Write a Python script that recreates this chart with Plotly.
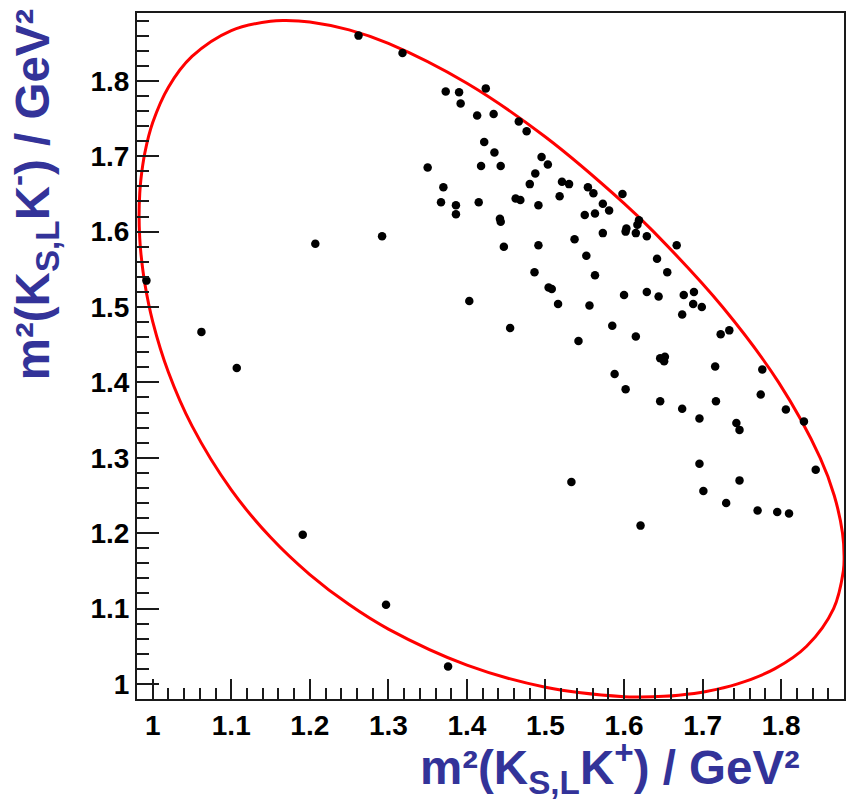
import plotly.graph_objects as go

# Event positions: m^2(K_S,L K+) and m^2(K_S,L K-) in GeV^2
m2_kp = [0.992,1.062,1.107,1.191,1.207,1.262,1.318,1.292,1.297,1.376,
         1.373,1.390,1.392,1.424,1.413,1.434,1.466,1.476,1.422,1.435,
         1.350,1.418,1.443,1.495,1.503,1.487,1.480,1.370,1.521,1.530,
         1.554,1.561,1.598,1.367,1.386,1.386,1.415,1.462,1.468,1.491,
         1.518,1.573,1.581,1.550,1.563,1.442,1.443,1.447,1.491,1.537,
         1.573,1.603,1.602,1.615,1.619,1.617,1.629,1.667,1.552,1.642,
         1.655,1.486,1.563,1.504,1.508,1.403,1.516,1.556,1.600,1.629,
         1.644,1.676,1.689,1.688,1.699,1.674,1.455,1.585,1.615,1.542,
         1.723,1.734,1.646,1.652,1.651,1.716,1.776,1.588,1.602,1.774,
         1.646,1.717,1.674,1.806,1.696,1.743,1.747,1.829,1.696,1.844,
         1.747,1.533,1.701,1.730,1.770,1.795,1.810,1.621]
m2_km = [1.535,1.467,1.419,1.198,1.584,1.860,1.837,1.594,1.105,1.023,
         1.786,1.785,1.770,1.790,1.754,1.756,1.746,1.733,1.719,1.705,
         1.685,1.687,1.687,1.699,1.689,1.677,1.663,1.659,1.666,1.663,
         1.659,1.651,1.650,1.639,1.635,1.623,1.639,1.644,1.642,1.635,
         1.647,1.637,1.628,1.622,1.624,1.617,1.613,1.580,1.582,1.590,
         1.598,1.604,1.600,1.598,1.615,1.609,1.594,1.582,1.568,1.564,
         1.546,1.546,1.542,1.526,1.524,1.508,1.504,1.502,1.516,1.520,
         1.514,1.516,1.520,1.504,1.500,1.490,1.472,1.475,1.461,1.455,
         1.464,1.469,1.432,1.434,1.428,1.421,1.417,1.411,1.391,1.384,
         1.375,1.375,1.365,1.364,1.352,1.346,1.337,1.348,1.292,1.284,
         1.270,1.268,1.256,1.240,1.230,1.228,1.226,1.210]

# Kinematic boundary (red contour)
bound_x = [0.98265,0.9835,0.985,0.99,1.0,1.02,1.05,1.1,1.15,1.16965,1.2,1.25,1.3,1.4,1.5,1.6,
           1.63748,1.72543,1.79676,1.84965,1.86756,1.87811,1.88009,1.87917,1.86677,1.83242,
           1.79164,1.74461,1.70461,1.66966,1.65075,1.62143,
           1.6,1.5,1.4,1.3,1.25,1.2,1.15,1.1,1.05,1.02,1.0,0.99,0.985,0.9835,0.98265]
bound_y = [1.62143,1.65075,1.66966,1.70461,1.74461,1.79164,1.83242,1.86677,1.87917,1.88009,1.87811,1.86756,1.84965,1.79676,1.72543,1.63748,
           1.6,1.5,1.4,1.3,1.25,1.2,1.16965,1.15,1.1,1.05,
           1.02,1.0,0.99,0.985,0.9835,0.98265,
           0.98306,0.99566,1.02493,1.07273,1.10522,1.14507,1.19448,1.25737,1.34227,1.41341,1.48068,1.53080,1.57082,1.59125,1.62143]

tick_vals = [1.0,1.1,1.2,1.3,1.4,1.5,1.6,1.7,1.8]
tick_text = ["1","1.1","1.2","1.3","1.4","1.5","1.6","1.7","1.8"]

FONT = "Liberation Sans, Arial, Helvetica, sans-serif"
TITLE_COLOR = "#333399"

fig = go.Figure()
fig.add_trace(go.Scatter(x=bound_x, y=bound_y, mode="lines",
                         line=dict(color="#ff0000", width=3, shape="spline"),
                         hoverinfo="skip", showlegend=False))
fig.add_trace(go.Scatter(x=m2_kp, y=m2_km, mode="markers",
                         marker=dict(symbol="circle", size=8.5, color="black",
                                     line=dict(width=0)),
                         showlegend=False))

axis_common = dict(
    showgrid=False, zeroline=False, showline=True, linecolor="#1a1a1a",
    linewidth=2, mirror=True, ticks="inside", tickcolor="#1a1a1a",
    tickwidth=1.5, tickvals=tick_vals, ticktext=tick_text,
    tickfont=dict(family=FONT, size=28, color="black", weight="bold"),
)

fig.update_xaxes(range=[0.98, 1.88], ticklen=20,
                 minor=dict(tick0=1.0, dtick=0.02, ticks="inside", ticklen=11,
                            tickcolor="#1a1a1a", tickwidth=1.5),
                 **axis_common)
fig.update_yaxes(range=[0.98, 1.89], ticklen=22,
                 minor=dict(tick0=1.0, dtick=0.02, ticks="inside", ticklen=12,
                            tickcolor="#1a1a1a", tickwidth=1.5),
                 **axis_common)

fig.update_layout(
    width=846, height=799,
    margin=dict(l=137, r=0, t=13, b=100),
    paper_bgcolor="white", plot_bgcolor="white",
    annotations=[
        dict(text="m²(K<sub>S,L</sub>K<sup>+</sup>) / GeV²", xref="paper", yref="paper",
             x=(803-137)/709, y=(699-767)/686, xanchor="right", yanchor="middle",
             showarrow=False, borderpad=0,
             font=dict(family=FONT, size=47.5, color=TITLE_COLOR, weight="bold")),
        dict(text="m²(K<sub>S,L</sub>K<sup>-</sup>) / GeV²", xref="paper", yref="paper",
             x=(33-137)/709, y=(699-7)/686, xanchor="center", yanchor="top",
             textangle=-90, showarrow=False, borderpad=0,
             font=dict(family=FONT, size=47.5, color=TITLE_COLOR, weight="bold")),
    ],
)

fig.write_html("out.html")
